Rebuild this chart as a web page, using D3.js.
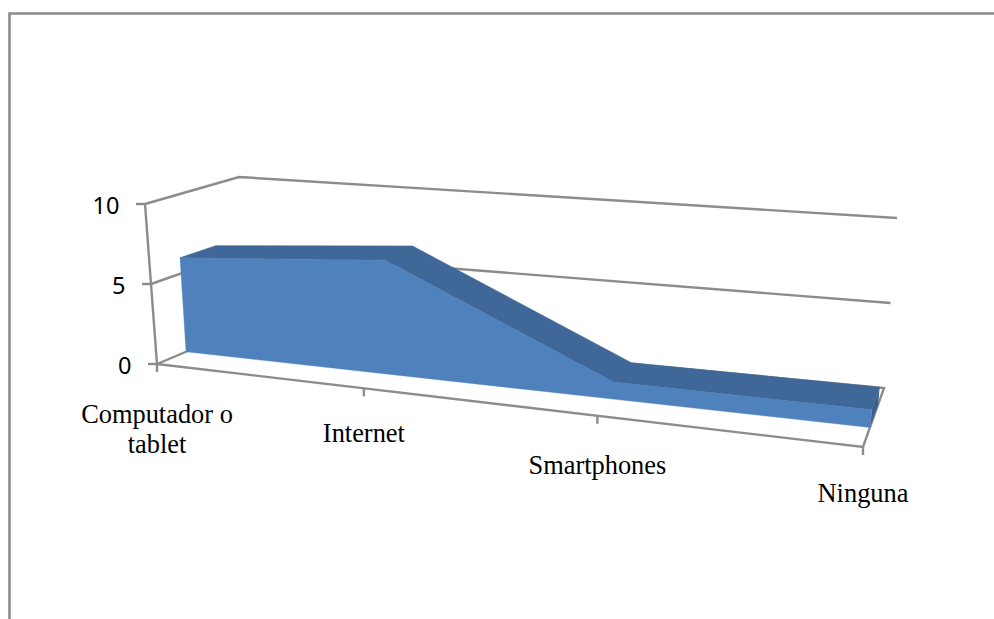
<!DOCTYPE html>
<html><head><meta charset="utf-8">
<script src="https://cdn.jsdelivr.net/npm/d3@7"></script>
<style>html,body{margin:0;padding:0;background:#fff}svg{display:block}</style>
</head><body><svg id="c" width="994" height="619"></svg>
<script>
const categories = [["Computador o","tablet"],["Internet"],["Smartphones"],["Ninguna"]];
const values = [6, 7, 1, 1];
const yTicks = [0, 5, 10];
const labelDrop = [59, 54, 58, 55];

const GRAY = "#8c8c8c", FRONT = "#4f81bd", TOP = "#3f6797", SIDE = "#37608f";
const svg = d3.select("#c");

// Projection box: corners of the 3D plot on screen
const box = {
  fl0:[157,364], fl1:[145,204], bl0:[245,327], bl1:[239,177],
  fr0:[863,447], fr1:[885,267], br0:[884,388], br1:[897,218]
};
const uScale = d3.scalePoint().domain(d3.range(categories.length)).range([0,1]);
const vScale = d3.scaleLinear().domain([0,10]).range([0,1]);
const persp = u => 0.829*u/(1-0.171*u);   // foreshortening along the category axis
const depthFront = 0.33, depthBack = 0.72;

function project(i, d, value){
  const u = persp(uScale(i)), v = vScale(value), out = [];
  for (const k of [0,1]) {
    const a = (1-v)*box.fl0[k]+v*box.fl1[k], b = (1-v)*box.bl0[k]+v*box.bl1[k];
    const c = (1-v)*box.fr0[k]+v*box.fr1[k], e = (1-v)*box.br0[k]+v*box.br1[k];
    const left = (1-d)*a+d*b, right = (1-d)*c+d*e;
    out.push((1-u)*left+u*right);
  }
  return out;
}
const line = d3.line();
const last = categories.length-1, idx = d3.range(categories.length);

// frame
svg.append("path").attr("d","M9.5,619V13.5H994").attr("fill","none").attr("stroke",GRAY).attr("stroke-width",2.6);

const axes = svg.append("g").attr("fill","none").attr("stroke",GRAY).attr("stroke-width",2.4);
// back wall gridlines + side wall
yTicks.forEach(t=>{
  if (t===0) return;
  axes.append("path").attr("d",line([project(0,0,t),project(0,1,t),project(last,1,t)]));
});
// floor
axes.append("path").attr("d",line([project(0,1,0),project(0,0,0),project(last,0,0),project(last,1,0),project(0,1,0)]));
// y axis
axes.append("path").attr("d",line([project(0,0,0),project(0,0,10)]));
yTicks.forEach(t=>{
  const p = project(0,0,t);
  axes.append("path").attr("d",line([[p[0]-9,p[1]],p]));
  svg.append("text").attr("x",p[0]-25.5).attr("y",p[1]+0.5).attr("text-anchor","end")
    .attr("dominant-baseline","central").attr("font-family","'Noto Sans'").attr("font-size",23.5)
    .attr("fill","#000").text(t);
});
// x ticks and labels
categories.forEach((lines,i)=>{
  const p = project(i,0,0);
  axes.append("path").attr("d",line([p,[p[0],p[1]+8]]));
  lines.forEach((s,j)=>{
    svg.append("text").attr("x",p[0]).attr("y",p[1]+labelDrop[i]+j*30).attr("text-anchor","middle")
      .attr("font-family","'Liberation Serif'").attr("font-size",26.4).attr("fill","#000").text(s);
  });
});

// area: top ribbon, front face, end cap
const frontTop = idx.map(i=>project(i,depthFront,values[i]));
const backTop  = idx.map(i=>project(i,depthBack,values[i]));
const frontBase = idx.map(i=>project(i,depthFront,0));
const backBase = idx.map(i=>project(i,depthBack,0));
svg.append("path").attr("d",line([frontTop[last],backTop[last],backBase[last],frontBase[last]])+"Z").attr("fill",SIDE);
svg.append("path").attr("d",line(frontTop.concat(backTop.slice().reverse()))+"Z").attr("fill",TOP).attr("stroke",TOP).attr("stroke-width",0.6);
svg.append("path").attr("d",line(frontTop.concat(frontBase.slice().reverse()))+"Z").attr("fill",FRONT).attr("stroke",FRONT).attr("stroke-width",0.4);
</script></body></html>
